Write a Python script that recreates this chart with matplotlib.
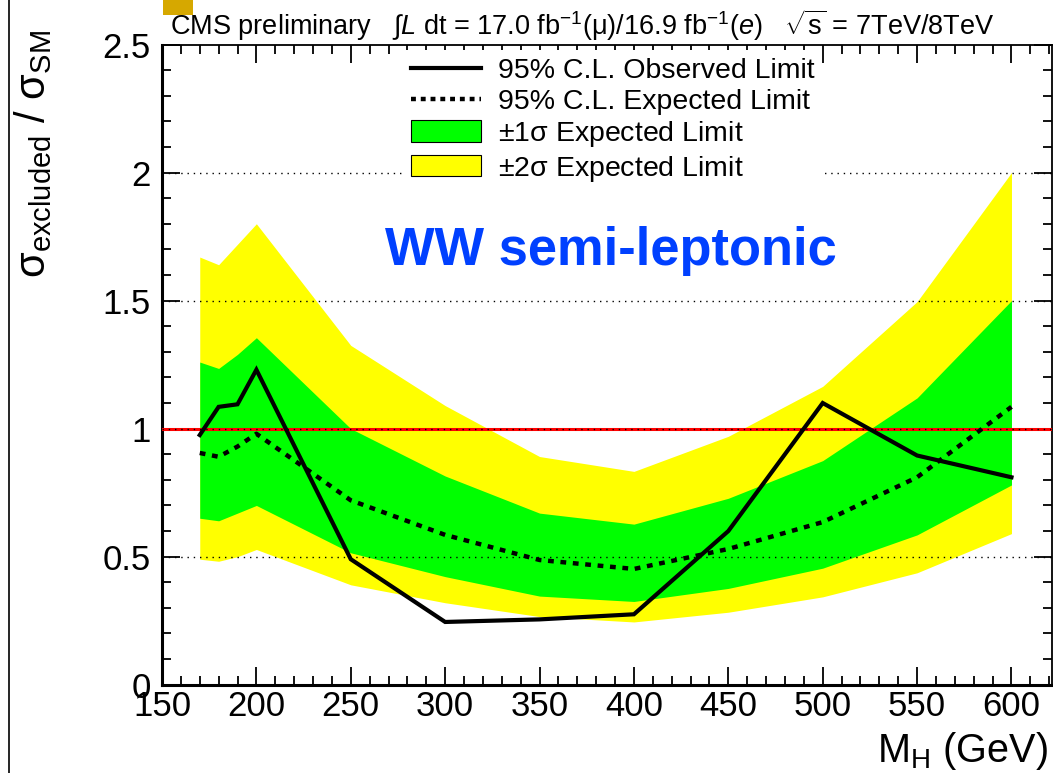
import matplotlib
matplotlib.use("Agg")
import matplotlib.pyplot as plt
from matplotlib.lines import Line2D
from matplotlib.patches import Patch, Rectangle
from matplotlib.ticker import MultipleLocator

plt.rcParams['font.family'] = ['Liberation Sans', 'DejaVu Sans']
plt.rcParams['mathtext.fontset'] = 'custom'
plt.rcParams['mathtext.rm'] = 'Liberation Sans'
plt.rcParams['mathtext.it'] = 'Liberation Sans:italic'
plt.rcParams['mathtext.bf'] = 'Liberation Sans:bold'
plt.rcParams['mathtext.default'] = 'regular'

# ---- data ----
mass = [170, 180, 190, 200, 250, 300, 350, 400, 450, 500, 550, 600]
observed = [0.975, 1.085, 1.095, 1.23, 0.49, 0.245, 0.255, 0.275, 0.60, 1.10, 0.895, 0.81]
expected = [0.905, 0.89, 0.93, 0.98, 0.72, 0.585, 0.487, 0.452, 0.53, 0.635, 0.81, 1.085]
one_sigma_lo = [0.65, 0.64, 0.67, 0.70, 0.515, 0.422, 0.346, 0.325, 0.376, 0.455, 0.585, 0.78]
one_sigma_hi = [1.26, 1.235, 1.29, 1.355, 1.0, 0.815, 0.670, 0.627, 0.728, 0.875, 1.12, 1.50]
two_sigma_lo = [0.49, 0.482, 0.50, 0.528, 0.39, 0.32, 0.266, 0.245, 0.283, 0.343, 0.437, 0.59]
two_sigma_hi = [1.67, 1.64, 1.72, 1.80, 1.325, 1.09, 0.891, 0.833, 0.97, 1.165, 1.496, 2.0]
grid_levels = [0.5, 1.0, 1.5, 2.0]
sm_level = 1.0

W, H = 1053, 773
fig = plt.figure(figsize=(W / 100, H / 100), dpi=100)
x0, x1, ytop, ybot = 162, 1051.5, 44.5, 684.7
ax = fig.add_axes([x0 / W, 1 - ybot / H, (x1 - x0) / W, (ybot - ytop) / H])

ax.set_xlim(150, 621.2)
ax.set_ylim(0, 2.5)

ax.fill_between(mass, two_sigma_lo, two_sigma_hi, color='#ffff00', lw=0, zorder=1)
ax.fill_between(mass, one_sigma_lo, one_sigma_hi, color='#00ff00', lw=0, zorder=2)
ax.axhline(sm_level, color='#ff0000', lw=2.2, zorder=3)
for lv in grid_levels:
    ax.axhline(lv, color='black', lw=1.0, ls=(0, (1, 3.5)), zorder=3.5)
ax.plot(mass, expected, color='black', lw=3.2, ls=(0, (1.3, 1.5)), zorder=5)
ax.plot(mass, observed, color='black', lw=3.0, zorder=6, solid_joinstyle='miter')

# axes styling (ROOT-like)
ax.xaxis.set_major_locator(MultipleLocator(50))
ax.xaxis.set_minor_locator(MultipleLocator(10))
ax.yaxis.set_major_locator(MultipleLocator(0.5))
ax.yaxis.set_minor_locator(MultipleLocator(0.1))
ax.yaxis.set_major_formatter(matplotlib.ticker.FuncFormatter(lambda v, p: ('%g' % v)))
ax.tick_params(which='both', direction='in', top=True, right=True, width=1.3, color='black')
ax.tick_params(which='major', length=13)
ax.tick_params(which='minor', length=6.5)
ax.tick_params(axis='x', which='major', labelsize=25, pad=4)
ax.tick_params(axis='y', which='major', labelsize=25, pad=8)
for s in ['top', 'right']:
    ax.spines[s].set_linewidth(1.3)
for s in ['left', 'bottom']:
    ax.spines[s].set_linewidth(2.2)

# legend
handles = [
    Line2D([], [], color='black', lw=3.0),
    Line2D([], [], color='black', lw=3.2, ls=(0, (1.1, 1.1))),
    Patch(facecolor='#00ff00', edgecolor='black', lw=0.8),
    Patch(facecolor='#ffff00', edgecolor='black', lw=0.8),
]
labels = ['95% C.L. Observed Limit', '95% C.L. Expected Limit',
          r'$\pm$1$\sigma$ Expected Limit', r'$\pm$2$\sigma$ Expected Limit']
leg = ax.legend(handles, labels, loc='upper left',
                bbox_to_anchor=(404 / W, 1 - 50 / H), bbox_transform=fig.transFigure,
                fontsize=20.5, frameon=True, facecolor='white', edgecolor='none',
                framealpha=1, fancybox=False, handlelength=2.45, handleheight=0.8,
                handletextpad=0.6, labelspacing=0.15, borderpad=0.25, borderaxespad=0)
leg.set_zorder(8)

# texts
ax.text(385 / W, 1 - 265 / H, 'WW semi-leptonic', transform=fig.transFigure,
        fontsize=37.8, fontweight='bold', color='#0040ff', ha='left', va='baseline', zorder=9)

fig.text(170 / W, 1 - 35 / H,
         r'CMS preliminary   $\int\mathit{L}$ dt = 17.0 fb$^{-1}$($\mu$)/16.9 fb$^{-1}$($\mathit{e}$)   $\sqrt{s}$ = 7TeV/8TeV',
         fontsize=19.5, ha='left', va='baseline')

fig.text(1048 / W, 1 - 762 / H, r'M$_{H}$ (GeV)', fontsize=28.5, ha='right', va='baseline')
fig.text(33 / W, 1 - 30 / H, r'$\sigma_{excluded}$ / $\sigma_{SM}$', fontsize=30,
         rotation=90, ha='center', va='top')

# decorative artefacts present in the reference screenshot
fig.add_artist(Rectangle((163 / W, 1 - 15 / H), 30 / W, 15 / H, transform=fig.transFigure,
                         facecolor='#d6a800', edgecolor='none'))
fig.add_artist(Line2D([8.5 / W, 8.5 / W], [0, 1], transform=fig.transFigure, color='black', lw=1.2))

fig.savefig('out.png', dpi=100)
